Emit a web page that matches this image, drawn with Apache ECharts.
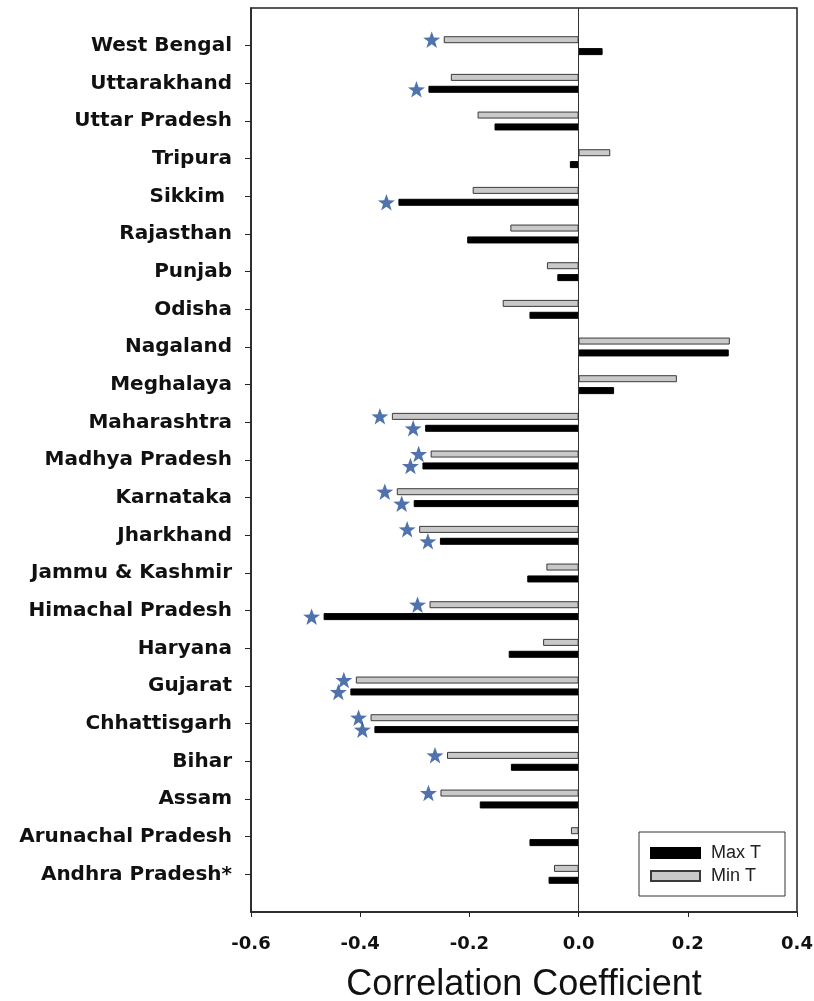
<!DOCTYPE html>
<html>
<head>
<meta charset="utf-8">
<script src="https://cdn.jsdelivr.net/npm/echarts@6/dist/echarts.min.js"></script>
<style>
  html, body { margin: 0; padding: 0; background: #fff; }
  #chart { width: 814px; height: 1001px; }
</style>
</head>
<body>
<div id="chart"></div>
<script>
// states, bottom to top
const states = [
  'Andhra Pradesh*', 'Arunachal Pradesh', 'Assam', 'Bihar', 'Chhattisgarh', 'Gujarat',
  'Haryana', 'Himachal Pradesh', 'Jammu & Kashmir', 'Jharkhand', 'Karnataka',
  'Madhya Pradesh', 'Maharashtra', 'Meghalaya', 'Nagaland', 'Odisha', 'Punjab',
  'Rajasthan', 'Sikkim ', 'Tripura', 'Uttar Pradesh', 'Uttarakhand', 'West Bengal'
];
const maxT = [
  -0.055, -0.090, -0.181, -0.124, -0.374, -0.418,
  -0.128, -0.467, -0.094, -0.254, -0.302,
  -0.286, -0.281, 0.065, 0.275, -0.090, -0.039,
  -0.204, -0.330, -0.016, -0.154, -0.275, 0.044
];
const minT = [
  -0.045, -0.014, -0.253, -0.241, -0.381, -0.408,
  -0.065, -0.273, -0.059, -0.292, -0.333,
  -0.271, -0.342, 0.180, 0.277, -0.139, -0.058,
  -0.125, -0.194, 0.058, -0.185, -0.234, -0.247
];
// significant correlations (marked with a star)
const sigMax = [0, 0, 0, 0, 1, 1, 0, 1, 0, 1, 1, 1, 1, 0, 0, 0, 0, 0, 1, 0, 0, 1, 0];
const sigMin = [0, 0, 1, 1, 1, 1, 0, 1, 0, 1, 1, 1, 1, 0, 0, 0, 0, 0, 0, 0, 0, 0, 1];

const STAR = 'path://M50,0 L63,36 100,37 70,60 81,97 50,75 19,97 30,60 0,37 37,36 Z';

// blank slots at both ends leave the extra room above and below
const cats = [' '].concat(states, ['  ']);

let chart = echarts.init(document.getElementById('chart'));

function stars(vals, flags, dy) {
  let list = [];
  vals.forEach((v, i) => {
    if (flags[i]) list.push([v, states[i]]);
  });
  return {
    type: 'scatter',
    data: list,
    symbol: STAR,
    symbolSize: 17,
    symbolKeepAspect: true,
    symbolOffset: [-12, dy],
    itemStyle: { color: '#24509a' },
    silent: true,
    z: 5
  };
}

let option = {
  backgroundColor: '#fff',
  animation: false,
  grid: {
    left: 251, right: 17, top: 8, bottom: 89,
    outerBoundsMode: 'none',
    containLabel: false,
    show: true,
    borderColor: '#222',
    borderWidth: 1.5
  },
  legend: {
    orient: 'vertical',
    left: 639, top: 832,
    padding: [12, 24, 11, 11],
    itemWidth: 49, itemHeight: 10, itemGap: 5,
    borderColor: '#333', borderWidth: 1,
    icon: 'rect',
    textStyle: { fontFamily: 'Liberation Sans', fontSize: 18, color: '#222', lineHeight: 18, padding: [0, 0, 0, 6] },
    data: ['Max T', 'Min T']
  },
  xAxis: {
    type: 'value',
    min: -0.6, max: 0.4, interval: 0.2,
    name: 'Correlation Coefficient',
    nameLocation: 'middle',
    nameGap: 55,
    nameTextStyle: { fontFamily: 'Liberation Sans', fontSize: 36, color: '#111' },
    axisLine: { show: true, lineStyle: { color: '#222', width: 1.5 } },
    axisTick: { show: true, length: 5, lineStyle: { color: '#222' } },
    axisLabel: {
      margin: 23,
      fontFamily: 'DejaVu Sans', fontWeight: 'bold', fontSize: 18, color: '#111',
      formatter: v => v.toFixed(1)
    },
    splitLine: { show: false }
  },
  yAxis: {
    type: 'category',
    data: cats,
    boundaryGap: false,
    axisLine: { show: true, onZero: false, lineStyle: { color: '#222', width: 1.5 } },
    axisTick: {
      show: true, length: 6, lineStyle: { color: '#222' },
      interval: (i, v) => v.trim() !== ''
    },
    axisLabel: {
      margin: 19, interval: 0,
      fontFamily: 'DejaVu Sans', fontWeight: 'bold', fontSize: 20, color: '#111'
    },
    splitLine: { show: false }
  },
  series: [
    {
      name: 'Min T',
      type: 'bar',
      data: minT.map((v, i) => [v, states[i]]),
      barWidth: 7,
      barGap: '70%',
      itemStyle: { color: '#c9c9c9', borderColor: '#3a3a3a', borderWidth: 1 },
      markLine: {
        silent: true,
        symbol: 'none',
        label: { show: false },
        lineStyle: { color: '#333', width: 1, type: 'solid' },
        data: [{ xAxis: 0 }]
      }
    },
    {
      name: 'Max T',
      type: 'bar',
      data: maxT.map((v, i) => [v, states[i]]),
      barWidth: 7,
      itemStyle: { color: '#000', borderColor: '#000', borderWidth: 1 }
    },
    stars(minT, sigMin, -6),
    stars(maxT, sigMax, 6)
  ]
};
chart.setOption(option);
</script>
</body>
</html>
